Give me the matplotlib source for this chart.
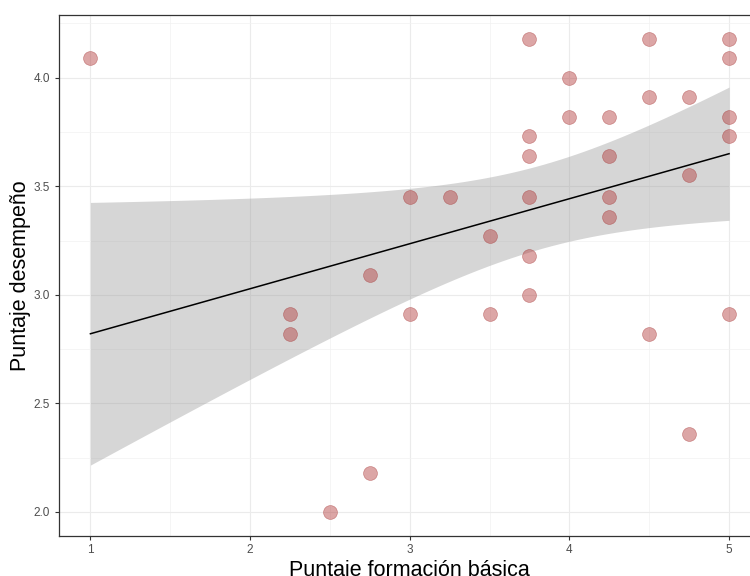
import numpy as np
import matplotlib
matplotlib.use("Agg")
import matplotlib.pyplot as plt

plt.rcParams['font.family'] = ['Liberation Sans', 'DejaVu Sans']

# Data (x: Puntaje formación básica, y: Puntaje desempeño)
formacion = [1.0,
             2.25, 2.25,
             2.5,
             2.75, 2.75,
             3.0, 3.0,
             3.25,
             3.5, 3.5,
             3.75, 3.75, 3.75, 3.75, 3.75, 3.75,
             4.0, 4.0,
             4.25, 4.25, 4.25, 4.25,
             4.5, 4.5, 4.5,
             4.75, 4.75, 4.75,
             5.0, 5.0, 5.0, 5.0, 5.0]
desempeno = [4.09,
             2.91, 2.82,
             2.00,
             3.09, 2.18,
             3.45, 2.91,
             3.45,
             3.27, 2.91,
             4.18, 3.73, 3.64, 3.45, 3.18, 3.00,
             4.00, 3.82,
             3.82, 3.64, 3.45, 3.36,
             4.18, 3.91, 2.82,
             3.91, 3.55, 2.36,
             4.18, 4.09, 3.82, 3.73, 2.91]
x_ticks = [1, 2, 3, 4, 5]
y_ticks = [2.0, 2.5, 3.0, 3.5, 4.0]

x = np.array(formacion)
y = np.array(desempeno)
n = len(x)
b1, b0 = np.polyfit(x, y, 1)
xs = np.linspace(x.min(), x.max(), 80)
ys = b0 + b1 * xs
resid = y - (b0 + b1 * x)
s = np.sqrt(np.sum(resid ** 2) / (n - 2))
sxx = np.sum((x - x.mean()) ** 2)
se = s * np.sqrt(1.0 / n + (xs - x.mean()) ** 2 / sxx)
t_crit = 2.037  # t(0.975, df=32)

fig = plt.figure(figsize=(7.5, 5.76), dpi=100)
W, H = 750, 576
left, right, top, bottom = 58.5, 761, 15, 535.6
ax = fig.add_axes([left / W, (H - bottom) / H, (right - left) / W, (bottom - top) / H])

ax.set_xlim(0.8, 5.2)
ax.set_ylim(1.891, 4.289)

ax.set_xticks(x_ticks)
ax.set_yticks(y_ticks)
ax.set_xticklabels([str(v) for v in x_ticks])
ax.set_yticklabels([f"{v:.1f}" for v in y_ticks])
ax.set_xticks([1.5, 2.5, 3.5, 4.5], minor=True)
ax.set_yticks([2.25, 2.75, 3.25, 3.75, 4.25], minor=True)

ax.grid(True, which='major', color='#EBEBEB', linewidth=0.8)
ax.grid(True, which='minor', color='#F2F2F2', linewidth=0.5)
ax.set_axisbelow(True)

ax.tick_params(axis='both', which='major', length=3, width=0.8, color='#333333',
               labelsize=8.5, labelcolor='#4D4D4D', pad=3)
ax.tick_params(axis='both', which='minor', length=0)
for sp in ax.spines.values():
    sp.set_color('#333333')
    sp.set_linewidth(0.9)

ax.fill_between(xs, ys - t_crit * se, ys + t_crit * se, color='#999999', alpha=0.4,
                linewidth=0, zorder=2)
ax.plot(xs, ys, color='black', linewidth=1.1, zorder=3)
ax.scatter(x, y, s=100, facecolor='#B23A3A', edgecolor='#A02828', alpha=0.45,
           linewidths=0.5, zorder=4)

ax.set_xlabel('Puntaje formación básica', fontsize=15.5, color='black', labelpad=3)
ax.set_ylabel('Puntaje desempeño', fontsize=15.5, color='black', labelpad=2)

fig.savefig('out.png', dpi=100)
